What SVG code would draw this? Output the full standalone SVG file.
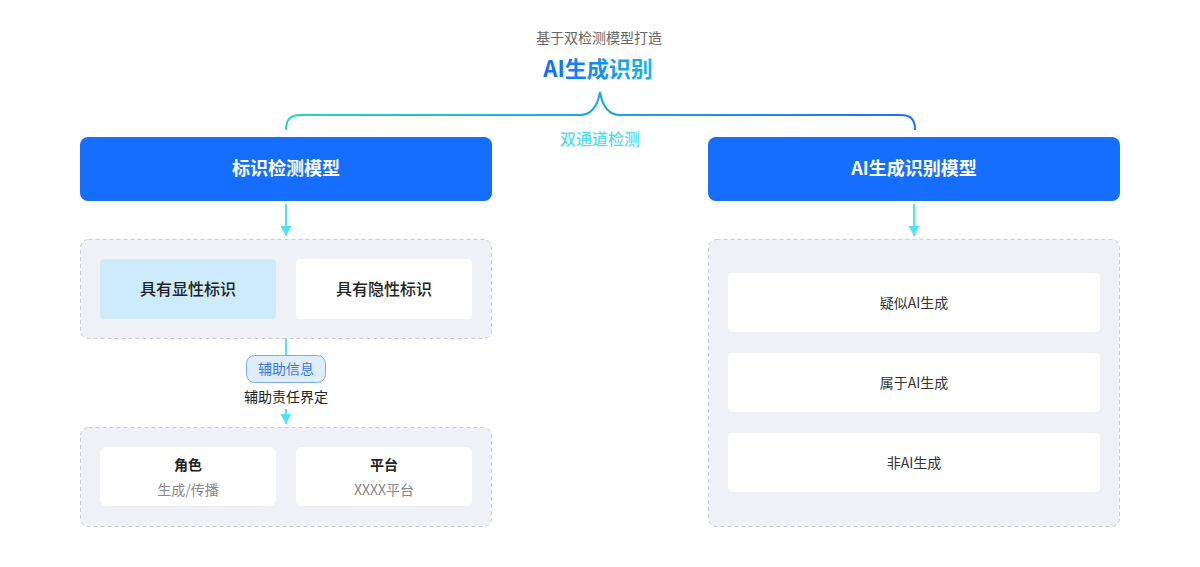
<svg xmlns="http://www.w3.org/2000/svg" width="1200" height="567" viewBox="0 0 1200 567">
<defs>
<linearGradient id="titleGrad" x1="0" y1="0" x2="1" y2="0">
<stop offset="0" stop-color="#1466FF"/>
<stop offset="1" stop-color="#13B8E6"/>
</linearGradient>
<linearGradient id="braceGrad" x1="286" y1="0" x2="915" y2="0" gradientUnits="userSpaceOnUse">
<stop offset="0" stop-color="#22D6C6"/>
<stop offset="0.5" stop-color="#18A9E2"/>
<stop offset="1" stop-color="#1E6BFF"/>
</linearGradient>
<marker id="arr" viewBox="0 0 10 11" refX="10" refY="5.5" markerWidth="10" markerHeight="11" markerUnits="userSpaceOnUse" orient="auto">
<path d="M0,0 L10,5.5 L0,11 Z" fill="#50E1FA"/>
</marker>
<style>
text{font-family:"Noto Sans CJK SC","Noto Sans",sans-serif;text-anchor:middle}
.head{fill:#166EFF}
.headT{fill:#fff;font-size:18px;font-weight:700}
.panel{fill:#F0F1F6;stroke:#C9CBD3;stroke-width:1;stroke-dasharray:4 3}
.card{fill:#fff}
.cardT{fill:#222;font-size:16px;font-weight:500}
.itemT{fill:#333;font-size:14px}
.sub{fill:#888;font-size:14px}
.bold{fill:#222;font-size:14px;font-weight:700}
.conn{stroke:#50E1FA;stroke-width:2;fill:none}
</style>
</defs>

<g id="title">
<text x="599" y="43" style="fill:#666;font-size:14px">基于双检测模型打造</text>
<text x="598" y="77" style="fill:url(#titleGrad);font-size:22px;font-weight:700">AI生成识别</text>
</g>

<g id="connectors">
<path d="M286,130 L286,129 Q286,115 300,115 L580,115 Q596,115 600,92 Q604,115 620,115 L901,115 Q915,115 915,129 L915,130" fill="none" stroke="url(#braceGrad)" stroke-width="2"/>
<text x="600" y="145" style="fill:#52DCF3;font-size:16px;font-weight:500">双通道检测</text>
<line class="conn" x1="286" y1="204" x2="286" y2="236" marker-end="url(#arr)"/>
<line class="conn" x1="914" y1="204" x2="914" y2="236" marker-end="url(#arr)"/>
<line class="conn" x1="286" y1="338" x2="286" y2="356"/>
<line class="conn" x1="286" y1="409" x2="286" y2="424" marker-end="url(#arr)"/>
</g>

<g id="left-model">
<rect class="head" x="80" y="137" width="412" height="64" rx="8"/>
<text class="headT" x="286" y="175">标识检测模型</text>
</g>

<g id="right-model">
<rect class="head" x="708" y="137" width="412" height="64" rx="8"/>
<text class="headT" x="914" y="175">AI生成识别模型</text>
</g>

<g id="left-panel-1">
<rect class="panel" x="80.5" y="239.5" width="411" height="99" rx="8"/>
<g id="explicit">
<rect x="100" y="259" width="176" height="60" rx="4" fill="#CCECFD"/>
<text class="cardT" x="188" y="295">具有显性标识</text>
</g>
<g id="implicit">
<rect class="card" x="296" y="259" width="176" height="60" rx="4"/>
<text class="cardT" x="384" y="295">具有隐性标识</text>
</g>
</g>

<g id="aux">
<rect x="246.5" y="355.5" width="79" height="27" rx="8" fill="#DFEDFF" stroke="#7DA8F8" stroke-width="1"/>
<text x="286" y="374" style="fill:#3A78EE;font-size:14px">辅助信息</text>
<text x="286" y="402" style="fill:#222;font-size:14px">辅助责任界定</text>
</g>

<g id="left-panel-2">
<rect class="panel" x="80.5" y="427.5" width="411" height="99" rx="8"/>
<g id="role">
<rect class="card" x="100" y="447" width="176" height="59" rx="6"/>
<text class="bold" x="188" y="470">角色</text>
<text class="sub" x="188" y="495">生成/传播</text>
</g>
<g id="platform">
<rect class="card" x="296" y="447" width="176" height="59" rx="6"/>
<text class="bold" x="384" y="470">平台</text>
<text class="sub" x="384" y="495">XXXX平台</text>
</g>
</g>

<g id="right-panel">
<rect class="panel" x="708.5" y="239.5" width="411" height="287" rx="8"/>
<g id="suspected">
<rect class="card" x="728" y="273" width="372" height="59" rx="4"/>
<text class="itemT" x="914" y="308">疑似AI生成</text>
</g>
<g id="is-ai">
<rect class="card" x="728" y="353" width="372" height="59" rx="4"/>
<text class="itemT" x="914" y="388">属于AI生成</text>
</g>
<g id="not-ai">
<rect class="card" x="728" y="433" width="372" height="59" rx="4"/>
<text class="itemT" x="914" y="468">非AI生成</text>
</g>
</g>
</svg>
